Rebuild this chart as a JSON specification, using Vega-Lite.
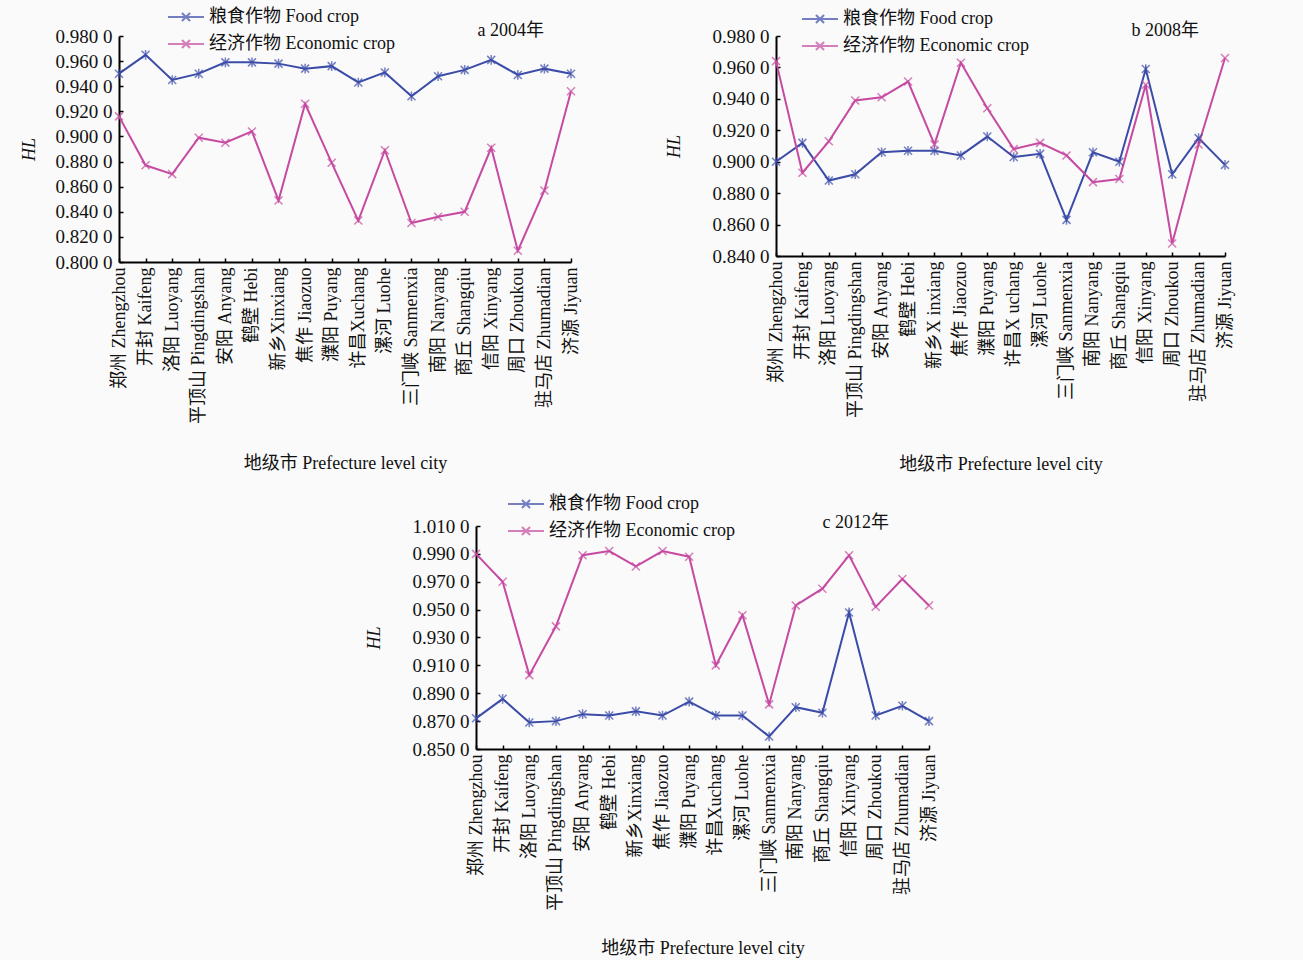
{
  "$schema": "https://vega.github.io/schema/vega-lite/v6.json",
  "background": "#fafafa",
  "padding": {"left": 20, "top": 7, "right": 70, "bottom": 5},
  "config": {
    "font": "Liberation Serif, Noto Sans CJK SC",
    "view": {"stroke": null},
    "axis": {
      "labelFont": "Liberation Serif, Noto Sans CJK SC",
      "titleFont": "Liberation Serif, Noto Sans CJK SC",
      "labelColor": "#111111",
      "titleColor": "#111111",
      "domainColor": "#000000",
      "domainWidth": 2,
      "tickColor": "#000000",
      "tickWidth": 1.5,
      "tickSize": -4,
      "labelPadding": 9,
      "grid": false,
      "labelFontSize": 18,
      "titleFontSize": 18,
      "titleFontWeight": "normal"
    },
    "axisY": {"labelFontSize": 19, "labelPadding": 11},
    "legend": {
      "labelFont": "Liberation Serif, Noto Sans CJK SC",
      "labelFontSize": 18,
      "labelColor": "#111111",
      "labelLimit": 400,
      "rowPadding": 8,
      "title": null
    },
    "title": {"font": "Liberation Serif, Noto Sans CJK SC", "fontSize": 18, "fontWeight": "normal", "color": "#111111"}
  },
  "datasets": {
    "d": [
      {"p": "a", "city": "郑州  Zhengzhou", "crop": "粮食作物 Food crop", "hl": 0.950},
      {"p": "a", "city": "开封  Kaifeng", "crop": "粮食作物 Food crop", "hl": 0.965},
      {"p": "a", "city": "洛阳  Luoyang", "crop": "粮食作物 Food crop", "hl": 0.945},
      {"p": "a", "city": "平顶山  Pingdingshan", "crop": "粮食作物 Food crop", "hl": 0.950},
      {"p": "a", "city": "安阳  Anyang", "crop": "粮食作物 Food crop", "hl": 0.959},
      {"p": "a", "city": "鹤壁  Hebi", "crop": "粮食作物 Food crop", "hl": 0.959},
      {"p": "a", "city": "新乡Xinxiang", "crop": "粮食作物 Food crop", "hl": 0.958},
      {"p": "a", "city": "焦作  Jiaozuo", "crop": "粮食作物 Food crop", "hl": 0.954},
      {"p": "a", "city": "濮阳  Puyang", "crop": "粮食作物 Food crop", "hl": 0.956},
      {"p": "a", "city": "许昌Xuchang", "crop": "粮食作物 Food crop", "hl": 0.943},
      {"p": "a", "city": "漯河  Luohe", "crop": "粮食作物 Food crop", "hl": 0.951},
      {"p": "a", "city": "三门峡  Sanmenxia", "crop": "粮食作物 Food crop", "hl": 0.932},
      {"p": "a", "city": "南阳  Nanyang", "crop": "粮食作物 Food crop", "hl": 0.948},
      {"p": "a", "city": "商丘  Shangqiu", "crop": "粮食作物 Food crop", "hl": 0.953},
      {"p": "a", "city": "信阳  Xinyang", "crop": "粮食作物 Food crop", "hl": 0.961},
      {"p": "a", "city": "周口  Zhoukou", "crop": "粮食作物 Food crop", "hl": 0.949},
      {"p": "a", "city": "驻马店  Zhumadian", "crop": "粮食作物 Food crop", "hl": 0.954},
      {"p": "a", "city": "济源  Jiyuan", "crop": "粮食作物 Food crop", "hl": 0.950},
      {"p": "a", "city": "郑州  Zhengzhou", "crop": "经济作物 Economic crop", "hl": 0.916},
      {"p": "a", "city": "开封  Kaifeng", "crop": "经济作物 Economic crop", "hl": 0.877},
      {"p": "a", "city": "洛阳  Luoyang", "crop": "经济作物 Economic crop", "hl": 0.870},
      {"p": "a", "city": "平顶山  Pingdingshan", "crop": "经济作物 Economic crop", "hl": 0.899},
      {"p": "a", "city": "安阳  Anyang", "crop": "经济作物 Economic crop", "hl": 0.895},
      {"p": "a", "city": "鹤壁  Hebi", "crop": "经济作物 Economic crop", "hl": 0.904},
      {"p": "a", "city": "新乡Xinxiang", "crop": "经济作物 Economic crop", "hl": 0.849},
      {"p": "a", "city": "焦作  Jiaozuo", "crop": "经济作物 Economic crop", "hl": 0.926},
      {"p": "a", "city": "濮阳  Puyang", "crop": "经济作物 Economic crop", "hl": 0.879},
      {"p": "a", "city": "许昌Xuchang", "crop": "经济作物 Economic crop", "hl": 0.833},
      {"p": "a", "city": "漯河  Luohe", "crop": "经济作物 Economic crop", "hl": 0.889},
      {"p": "a", "city": "三门峡  Sanmenxia", "crop": "经济作物 Economic crop", "hl": 0.831},
      {"p": "a", "city": "南阳  Nanyang", "crop": "经济作物 Economic crop", "hl": 0.836},
      {"p": "a", "city": "商丘  Shangqiu", "crop": "经济作物 Economic crop", "hl": 0.840},
      {"p": "a", "city": "信阳  Xinyang", "crop": "经济作物 Economic crop", "hl": 0.891},
      {"p": "a", "city": "周口  Zhoukou", "crop": "经济作物 Economic crop", "hl": 0.809},
      {"p": "a", "city": "驻马店  Zhumadian", "crop": "经济作物 Economic crop", "hl": 0.857},
      {"p": "a", "city": "济源  Jiyuan", "crop": "经济作物 Economic crop", "hl": 0.936},
      {"p": "b", "city": "郑州  Zhengzhou", "crop": "粮食作物 Food crop", "hl": 0.900},
      {"p": "b", "city": "开封  Kaifeng", "crop": "粮食作物 Food crop", "hl": 0.912},
      {"p": "b", "city": "洛阳  Luoyang", "crop": "粮食作物 Food crop", "hl": 0.888},
      {"p": "b", "city": "平顶山  Pingdingshan", "crop": "粮食作物 Food crop", "hl": 0.892},
      {"p": "b", "city": "安阳  Anyang", "crop": "粮食作物 Food crop", "hl": 0.906},
      {"p": "b", "city": "鹤壁  Hebi", "crop": "粮食作物 Food crop", "hl": 0.907},
      {"p": "b", "city": "新乡X inxiang", "crop": "粮食作物 Food crop", "hl": 0.907},
      {"p": "b", "city": "焦作  Jiaozuo", "crop": "粮食作物 Food crop", "hl": 0.904},
      {"p": "b", "city": "濮阳  Puyang", "crop": "粮食作物 Food crop", "hl": 0.916},
      {"p": "b", "city": "许昌X uchang", "crop": "粮食作物 Food crop", "hl": 0.903},
      {"p": "b", "city": "漯河  Luohe", "crop": "粮食作物 Food crop", "hl": 0.905},
      {"p": "b", "city": "三门峡  Sanmenxia", "crop": "粮食作物 Food crop", "hl": 0.863},
      {"p": "b", "city": "南阳  Nanyang", "crop": "粮食作物 Food crop", "hl": 0.906},
      {"p": "b", "city": "商丘  Shangqiu", "crop": "粮食作物 Food crop", "hl": 0.900},
      {"p": "b", "city": "信阳  Xinyang", "crop": "粮食作物 Food crop", "hl": 0.959},
      {"p": "b", "city": "周口  Zhoukou", "crop": "粮食作物 Food crop", "hl": 0.892},
      {"p": "b", "city": "驻马店  Zhumadian", "crop": "粮食作物 Food crop", "hl": 0.915},
      {"p": "b", "city": "济源  Jiyuan", "crop": "粮食作物 Food crop", "hl": 0.898},
      {"p": "b", "city": "郑州  Zhengzhou", "crop": "经济作物 Economic crop", "hl": 0.964},
      {"p": "b", "city": "开封  Kaifeng", "crop": "经济作物 Economic crop", "hl": 0.893},
      {"p": "b", "city": "洛阳  Luoyang", "crop": "经济作物 Economic crop", "hl": 0.913},
      {"p": "b", "city": "平顶山  Pingdingshan", "crop": "经济作物 Economic crop", "hl": 0.939},
      {"p": "b", "city": "安阳  Anyang", "crop": "经济作物 Economic crop", "hl": 0.941},
      {"p": "b", "city": "鹤壁  Hebi", "crop": "经济作物 Economic crop", "hl": 0.951},
      {"p": "b", "city": "新乡X inxiang", "crop": "经济作物 Economic crop", "hl": 0.911},
      {"p": "b", "city": "焦作  Jiaozuo", "crop": "经济作物 Economic crop", "hl": 0.963},
      {"p": "b", "city": "濮阳  Puyang", "crop": "经济作物 Economic crop", "hl": 0.934},
      {"p": "b", "city": "许昌X uchang", "crop": "经济作物 Economic crop", "hl": 0.908},
      {"p": "b", "city": "漯河  Luohe", "crop": "经济作物 Economic crop", "hl": 0.912},
      {"p": "b", "city": "三门峡  Sanmenxia", "crop": "经济作物 Economic crop", "hl": 0.904},
      {"p": "b", "city": "南阳  Nanyang", "crop": "经济作物 Economic crop", "hl": 0.887},
      {"p": "b", "city": "商丘  Shangqiu", "crop": "经济作物 Economic crop", "hl": 0.889},
      {"p": "b", "city": "信阳  Xinyang", "crop": "经济作物 Economic crop", "hl": 0.949},
      {"p": "b", "city": "周口  Zhoukou", "crop": "经济作物 Economic crop", "hl": 0.848},
      {"p": "b", "city": "驻马店  Zhumadian", "crop": "经济作物 Economic crop", "hl": 0.911},
      {"p": "b", "city": "济源  Jiyuan", "crop": "经济作物 Economic crop", "hl": 0.966},
      {"p": "c", "city": "郑州  Zhengzhou", "crop": "粮食作物 Food crop", "hl": 0.872},
      {"p": "c", "city": "开封  Kaifeng", "crop": "粮食作物 Food crop", "hl": 0.886},
      {"p": "c", "city": "洛阳  Luoyang", "crop": "粮食作物 Food crop", "hl": 0.869},
      {"p": "c", "city": "平顶山  Pingdingshan", "crop": "粮食作物 Food crop", "hl": 0.870},
      {"p": "c", "city": "安阳  Anyang", "crop": "粮食作物 Food crop", "hl": 0.875},
      {"p": "c", "city": "鹤壁  Hebi", "crop": "粮食作物 Food crop", "hl": 0.874},
      {"p": "c", "city": "新乡Xinxiang", "crop": "粮食作物 Food crop", "hl": 0.877},
      {"p": "c", "city": "焦作  Jiaozuo", "crop": "粮食作物 Food crop", "hl": 0.874},
      {"p": "c", "city": "濮阳  Puyang", "crop": "粮食作物 Food crop", "hl": 0.884},
      {"p": "c", "city": "许昌Xuchang", "crop": "粮食作物 Food crop", "hl": 0.874},
      {"p": "c", "city": "漯河  Luohe", "crop": "粮食作物 Food crop", "hl": 0.874},
      {"p": "c", "city": "三门峡  Sanmenxia", "crop": "粮食作物 Food crop", "hl": 0.859},
      {"p": "c", "city": "南阳  Nanyang", "crop": "粮食作物 Food crop", "hl": 0.880},
      {"p": "c", "city": "商丘  Shangqiu", "crop": "粮食作物 Food crop", "hl": 0.876},
      {"p": "c", "city": "信阳  Xinyang", "crop": "粮食作物 Food crop", "hl": 0.948},
      {"p": "c", "city": "周口  Zhoukou", "crop": "粮食作物 Food crop", "hl": 0.874},
      {"p": "c", "city": "驻马店  Zhumadian", "crop": "粮食作物 Food crop", "hl": 0.881},
      {"p": "c", "city": "济源  Jiyuan", "crop": "粮食作物 Food crop", "hl": 0.870},
      {"p": "c", "city": "郑州  Zhengzhou", "crop": "经济作物 Economic crop", "hl": 0.990},
      {"p": "c", "city": "开封  Kaifeng", "crop": "经济作物 Economic crop", "hl": 0.970},
      {"p": "c", "city": "洛阳  Luoyang", "crop": "经济作物 Economic crop", "hl": 0.903},
      {"p": "c", "city": "平顶山  Pingdingshan", "crop": "经济作物 Economic crop", "hl": 0.938},
      {"p": "c", "city": "安阳  Anyang", "crop": "经济作物 Economic crop", "hl": 0.989},
      {"p": "c", "city": "鹤壁  Hebi", "crop": "经济作物 Economic crop", "hl": 0.992},
      {"p": "c", "city": "新乡Xinxiang", "crop": "经济作物 Economic crop", "hl": 0.981},
      {"p": "c", "city": "焦作  Jiaozuo", "crop": "经济作物 Economic crop", "hl": 0.992},
      {"p": "c", "city": "濮阳  Puyang", "crop": "经济作物 Economic crop", "hl": 0.988},
      {"p": "c", "city": "许昌Xuchang", "crop": "经济作物 Economic crop", "hl": 0.910},
      {"p": "c", "city": "漯河  Luohe", "crop": "经济作物 Economic crop", "hl": 0.946},
      {"p": "c", "city": "三门峡  Sanmenxia", "crop": "经济作物 Economic crop", "hl": 0.882},
      {"p": "c", "city": "南阳  Nanyang", "crop": "经济作物 Economic crop", "hl": 0.953},
      {"p": "c", "city": "商丘  Shangqiu", "crop": "经济作物 Economic crop", "hl": 0.965},
      {"p": "c", "city": "信阳  Xinyang", "crop": "经济作物 Economic crop", "hl": 0.989},
      {"p": "c", "city": "周口  Zhoukou", "crop": "经济作物 Economic crop", "hl": 0.952},
      {"p": "c", "city": "驻马店  Zhumadian", "crop": "经济作物 Economic crop", "hl": 0.972},
      {"p": "c", "city": "济源  Jiyuan", "crop": "经济作物 Economic crop", "hl": 0.953}
    ]
  },
  "bounds": "flush",
  "spacing": 490,
  "resolve": {"scale": {"color": "independent"}, "legend": {"color": "independent"}},
  "vconcat": [
    {
      "bounds": "flush",
      "spacing": 205,
      "resolve": {"scale": {"color": "independent"}, "legend": {"color": "independent"}},
      "hconcat": [
        {
          "width": 452,
          "height": 226,
          "data": {"name": "d"},
          "transform": [{"filter": "datum.p === 'a'"}],
          "title": {"text": "a 2004年", "anchor": "end", "frame": "group", "offset": -33, "dx": -27},
          "encoding": {
            "x": {"field": "city", "type": "nominal", "sort": null, "scale": {"type": "point", "padding": 0},
              "axis": {"title": "地级市 Prefecture level city", "labelAngle": -90, "titleY": 201, "titleBaseline": "middle"}},
            "y": {"field": "hl", "type": "quantitative", "scale": {"domain": [0.8, 0.98], "zero": false, "nice": false},
              "axis": {"values": [0.8, 0.82, 0.84, 0.86, 0.88, 0.9, 0.92, 0.94, 0.96, 0.98], "labelExpr": "format(datum.value, '.3f') + ' 0'", "title": "HL", "titleFontStyle": "italic", "titleX": -90, "titleBaseline": "middle"}},
            "color": {"field": "crop", "type": "nominal", "sort": null,
              "scale": {"domain": ["粮食作物 Food crop", "经济作物 Economic crop"], "range": ["#3b4ca8", "#c64aa2"]},
              "legend": {"orient": "none", "legendX": 57, "legendY": -29, "symbolType": "M-2,0L2,0M-0.45,-0.45L0.45,0.45M-0.45,0.45L0.45,-0.45", "symbolSize": 324, "symbolStrokeWidth": 2, "symbolFillColor": "transparent", "labelOffset": 13}}
          },
          "layer": [
            {"mark": {"type": "line", "strokeWidth": 2}},
            {"transform": [{"filter": "datum.crop === '粮食作物 Food crop'"}],
              "mark": {"type": "point", "filled": false, "size": 64, "strokeWidth": 1.5, "shape": "M-1,-1L1,1M-1,1L1,-1M0,-1.2L0,1.2"}},
            {"transform": [{"filter": "datum.crop === '经济作物 Economic crop'"}],
              "mark": {"type": "point", "filled": false, "size": 64, "strokeWidth": 1.5, "shape": "M-1,-1L1,1M-1,1L1,-1"}}
          ]
        },
        {
          "width": 449,
          "height": 220,
          "data": {"name": "d"},
          "transform": [{"filter": "datum.p === 'b'"}],
          "title": {"text": "b 2008年", "anchor": "end", "frame": "group", "offset": -31, "dx": -26},
          "encoding": {
            "x": {"field": "city", "type": "nominal", "sort": null, "scale": {"type": "point", "padding": 0},
              "axis": {"title": "地级市 Prefecture level city", "labelAngle": -90, "titleY": 208, "titleBaseline": "middle"}},
            "y": {"field": "hl", "type": "quantitative", "scale": {"domain": [0.84, 0.98], "zero": false, "nice": false},
              "axis": {"values": [0.84, 0.86, 0.88, 0.9, 0.92, 0.94, 0.96, 0.98], "labelExpr": "format(datum.value, '.3f') + ' 0'", "title": "HL", "titleFontStyle": "italic", "titleX": -102, "titleBaseline": "middle"}},
            "color": {"field": "crop", "type": "nominal", "sort": null,
              "scale": {"domain": ["粮食作物 Food crop", "经济作物 Economic crop"], "range": ["#3b4ca8", "#c64aa2"]},
              "legend": {"orient": "none", "legendX": 34, "legendY": -27, "symbolType": "M-2,0L2,0M-0.45,-0.45L0.45,0.45M-0.45,0.45L0.45,-0.45", "symbolSize": 324, "symbolStrokeWidth": 2, "symbolFillColor": "transparent", "labelOffset": 13}}
          },
          "layer": [
            {"mark": {"type": "line", "strokeWidth": 2}},
            {"transform": [{"filter": "datum.crop === '粮食作物 Food crop'"}],
              "mark": {"type": "point", "filled": false, "size": 64, "strokeWidth": 1.5, "shape": "M-1,-1L1,1M-1,1L1,-1M0,-1.2L0,1.2"}},
            {"transform": [{"filter": "datum.crop === '经济作物 Economic crop'"}],
              "mark": {"type": "point", "filled": false, "size": 64, "strokeWidth": 1.5, "shape": "M-1,-1L1,1M-1,1L1,-1"}}
          ]
        }
      ]
    },
    {
      "bounds": "flush",
      "spacing": 0,
      "resolve": {"scale": {"color": "independent"}, "legend": {"color": "independent"}},
      "hconcat": [
        {
          "width": 357,
          "height": 1,
          "data": {"values": []},
          "mark": "point"
        },
        {
          "width": 453,
          "height": 223,
          "data": {"name": "d"},
          "transform": [{"filter": "datum.p === 'c'"}],
          "title": {"text": "c 2012年", "anchor": "end", "frame": "group", "offset": -38, "dx": -40},
          "encoding": {
            "x": {"field": "city", "type": "nominal", "sort": null, "scale": {"type": "point", "padding": 0},
              "axis": {"title": "地级市 Prefecture level city", "labelAngle": -90, "titleY": 199, "titleBaseline": "middle"}},
            "y": {"field": "hl", "type": "quantitative", "scale": {"domain": [0.85, 1.01], "zero": false, "nice": false},
              "axis": {"values": [0.85, 0.87, 0.89, 0.91, 0.93, 0.95, 0.97, 0.99, 1.01], "labelExpr": "format(datum.value, '.3f') + ' 0'", "title": "HL", "titleFontStyle": "italic", "titleX": -102, "titleBaseline": "middle"}},
            "color": {"field": "crop", "type": "nominal", "sort": null,
              "scale": {"domain": ["粮食作物 Food crop", "经济作物 Economic crop"], "range": ["#3b4ca8", "#c64aa2"]},
              "legend": {"orient": "none", "legendX": 40, "legendY": -32, "symbolType": "M-2,0L2,0M-0.45,-0.45L0.45,0.45M-0.45,0.45L0.45,-0.45", "symbolSize": 324, "symbolStrokeWidth": 2, "symbolFillColor": "transparent", "labelOffset": 13}}
          },
          "layer": [
            {"mark": {"type": "line", "strokeWidth": 2}},
            {"transform": [{"filter": "datum.crop === '粮食作物 Food crop'"}],
              "mark": {"type": "point", "filled": false, "size": 64, "strokeWidth": 1.5, "shape": "M-1,-1L1,1M-1,1L1,-1M0,-1.2L0,1.2"}},
            {"transform": [{"filter": "datum.crop === '经济作物 Economic crop'"}],
              "mark": {"type": "point", "filled": false, "size": 64, "strokeWidth": 1.5, "shape": "M-1,-1L1,1M-1,1L1,-1"}}
          ]
        }
      ]
    }
  ]
}
